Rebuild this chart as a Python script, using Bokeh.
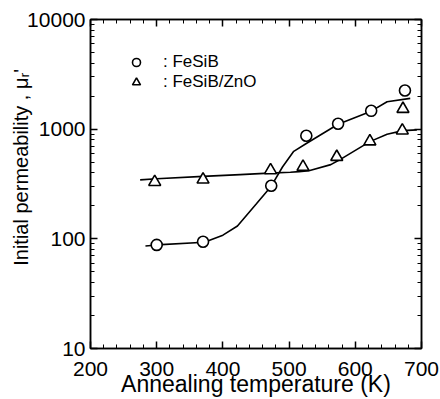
from bokeh.plotting import figure
from bokeh.models import (LinearAxis, LogAxis, FixedTicker, SingleIntervalTicker, Legend, LegendItem,
                          NumeralTickFormatter, CustomJSTickFormatter, Range1d)
from bokeh.embed import file_html
from bokeh.resources import INLINE

# ---- data ----
fesib_T = [300, 370, 473, 526, 574, 624, 675]
fesib_mu = [88, 94, 305, 870, 1120, 1470, 2250]
zno_T = [297, 370, 472, 521, 572, 622, 671, 672]
zno_mu = [330, 347, 422, 453, 558, 774, 973, 1530]
fesib_curve_T = [283, 300, 372, 400, 422, 450, 473, 490, 507, 526, 574, 624, 648, 683]
fesib_curve_mu = [86, 88, 93, 108, 131, 207, 302, 452, 628, 740, 1110, 1460, 1780, 1910]
zno_curve_T = [275, 300, 370, 426, 470, 502, 515, 530, 563, 575, 622, 648, 672, 693]
zno_curve_mu = [345, 353, 371, 385, 397, 405, 410, 418, 475, 520, 770, 900, 970, 985]
y_major = [10, 100, 1000, 10000]
y_minor = [m * d for d in (10, 100, 1000) for m in range(2, 10)]
x_label = "Annealing temperature (K)"
y_label = "Initial permeability , μᵣ'"
series_names = [": FeSiB", ": FeSiB/ZnO"]

FONT = "Liberation Sans"

p = figure(width=440, height=399, x_range=Range1d(200, 700), y_range=Range1d(10, 10000),
           y_axis_type="log", output_backend="svg", toolbar_location=None,
           min_border_left=90, min_border_right=19, min_border_top=19, min_border_bottom=49,
           background_fill_color="white", border_fill_color="white")
p.grid.visible = False
p.outline_line_color = "black"
p.outline_line_width = 1.5


def style_axis(ax):
    ax.axis_line_color = "black"
    ax.axis_line_width = 1.5
    ax.major_tick_in = 7
    ax.major_tick_out = 0
    ax.minor_tick_in = 4
    ax.minor_tick_out = 0
    ax.major_tick_line_width = 1.5
    ax.minor_tick_line_width = 1
    ax.major_tick_line_color = "black"
    ax.minor_tick_line_color = "black"
    ax.major_label_text_font = FONT
    ax.major_label_text_color = "black"
    ax.axis_label_text_color = "black"
    ax.axis_label_text_font = FONT
    ax.axis_label_text_font_style = "normal"


xt = SingleIntervalTicker(interval=100, num_minor_ticks=5)
yt = FixedTicker(ticks=y_major, minor_ticks=y_minor)

xa = p.xaxis[0]
xa.ticker = xt
style_axis(xa)
xa.major_label_text_font_size = "21px"
xa.major_label_standoff = 13
xa.axis_label = x_label
xa.axis_label_text_font_size = "23px"
xa.axis_label_standoff = -8

ya = p.yaxis[0]
ya.ticker = yt
ya.formatter = NumeralTickFormatter(format="0")
style_axis(ya)
ya.major_label_text_font_size = "21px"
ya.major_label_standoff = 5
ya.axis_label = "\u00a0" * 6 + y_label
ya.axis_label_text_font_size = "20px"
ya.axis_label_standoff = -8

blank = CustomJSTickFormatter(code="return ''")
top = LinearAxis(ticker=xt, formatter=blank, major_label_standoff=0)
style_axis(top)
p.add_layout(top, "above")
right = LogAxis(ticker=yt, formatter=blank, major_label_standoff=0)
style_axis(right)
p.add_layout(right, "right")

p.line(fesib_curve_T, fesib_curve_mu, line_color="black", line_width=1.6)
p.line(zno_curve_T, zno_curve_mu, line_color="black", line_width=1.6)
r1 = p.scatter(fesib_T, fesib_mu, marker="circle", size=11, fill_color="white",
               line_color="black", line_width=1.6)
r2 = p.scatter(zno_T, zno_mu, marker="triangle", size=12, fill_color="white",
               line_color="black", line_width=1.6)

legend = Legend(items=[LegendItem(label=series_names[0], renderers=[r1]),
                       LegendItem(label=series_names[1], renderers=[r2])],
                location="top_left", margin=33, padding=0, spacing=0,
                glyph_width=26, glyph_height=20, label_height=20, label_standoff=14,
                label_text_font=FONT, label_text_font_size="17px", label_text_color="black",
                border_line_color=None, background_fill_alpha=0)
p.add_layout(legend)

open("out.html", "w").write(file_html(p, INLINE))
